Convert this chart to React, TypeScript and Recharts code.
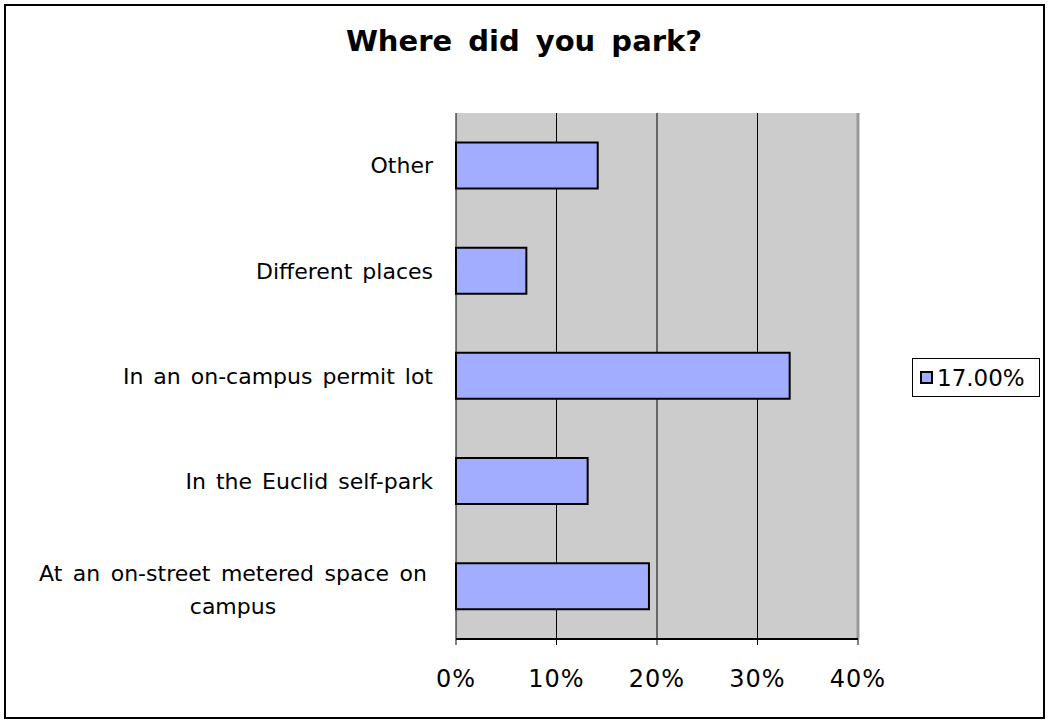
import React from "react";
import {
  BarChart,
  Bar,
  XAxis,
  YAxis,
  CartesianGrid,
  Legend,
  ReferenceLine,
} from "recharts";

const categories = [
  "Other",
  "Different places",
  "In an on-campus permit lot",
  "In the Euclid self-park",
  "At an on-street metered space on\ncampus",
];
const shares = [14.1, 7.0, 33.2, 13.1, 19.2];
const xTicks = [0, 10, 20, 30, 40];
const seriesName = "17.00%";
const title = "Where did you park?";

const data = categories.map((c, i) => ({ name: c, value: shares[i] }));

const FONT = "'DejaVu Sans', Verdana, sans-serif";
const BAR_FILL = "#A3ADFF";

function CategoryTick(props: any) {
  const { x, y, payload } = props;
  const lines = String(payload.value).split("\n");
  if (lines.length === 1) {
    return (
      <text x={x - 15} y={y} dy="0.35em" textAnchor="end" fontSize={22} fontFamily={FONT} wordSpacing={3} fill="#000">
        {lines[0]}
      </text>
    );
  }
  const lh = 33;
  const start = y + 3 - ((lines.length - 1) * lh) / 2;
  return (
    <text x={233} y={start} textAnchor="middle" fontSize={22} fontFamily={FONT} wordSpacing={3.5} fill="#000">
      {lines.map((l, i) => (
        <tspan key={i} x={233} y={start + i * lh} dy="0.35em">
          {l}
        </tspan>
      ))}
    </text>
  );
}

function LegendBox() {
  return (
    <div
      style={{
        boxSizing: "border-box",
        width: 128,
        height: 39,
        border: "1px solid #000",
        background: "#fff",
        display: "flex",
        alignItems: "center",
        paddingLeft: 7,
        fontFamily: FONT,
        fontSize: 23,
        whiteSpace: "nowrap",
      }}
    >
      <span
        style={{
          display: "inline-block",
          boxSizing: "border-box",
          width: 13,
          height: 13,
          background: BAR_FILL,
          border: "2px solid #000",
          marginRight: 4,
        }}
      />
      {seriesName}
    </div>
  );
}

export default function App() {
  return (
    <div style={{ position: "absolute", left: 0, top: 0, width: 1048, height: 723, background: "#fff" }}>
      <div
        style={{
          position: "absolute",
          left: 4,
          top: 4,
          width: 1037,
          height: 711,
          border: "2px solid #000",
        }}
      />
      <div
        style={{
          position: "absolute",
          left: 0,
          top: 24,
          width: 1048,
          textAlign: "center",
          fontFamily: FONT,
          fontSize: 29,
          fontWeight: "bold",
          wordSpacing: 6,
        }}
      >
        {title}
      </div>
      <div style={{ position: "absolute", left: 0, top: 0 }}>
        <BarChart
          width={1048}
          height={723}
          data={data}
          layout="vertical"
          margin={{ top: 113, right: 190, bottom: 0, left: 0 }}
          barCategoryGap="28%"
        >
          <CartesianGrid
            horizontal={false}
            stroke="#000"
            strokeWidth={1}
            fill="#CCCCCC"
            fillOpacity={1}
            yAxisId="cat"
          />
          <XAxis
            type="number"
            domain={[0, 40]}
            ticks={xTicks}
            tickFormatter={(v: number) => `${v}%`}
            height={84}
            tickSize={6}
            tickMargin={25}
            axisLine={{ stroke: "#000", strokeWidth: 2 }}
            tickLine={{ stroke: "#000" }}
            tick={{ fontSize: 24, fontFamily: FONT, fill: "#000", letterSpacing: 1 }}
          />
          <YAxis
            yAxisId="bounds"
            type="number"
            domain={[0, 5]}
            ticks={[0, 1, 2, 3, 4, 5]}
            width={0}
            tickSize={8}
            tick={false}
            axisLine={{ stroke: "#000", strokeWidth: 2 }}
            tickLine={{ stroke: "#000" }}
          />
          <YAxis
            yAxisId="cat"
            type="category"
            dataKey="name"
            width={456}
            axisLine={false}
            tickLine={false}
            interval={0}
            tick={<CategoryTick />}
          />
          <ReferenceLine x={40} yAxisId="cat" stroke="#999" strokeWidth={3} />
          <ReferenceLine y={5} yAxisId="bounds" stroke="#999" strokeWidth={2} />
          <Legend
            layout="horizontal"
            verticalAlign="middle"
            align="center"
            content={<LegendBox />}
            wrapperStyle={{ position: "absolute", left: 912, top: 358, width: 128 }}
          />
          <Bar
            yAxisId="cat"
            dataKey="value"
            name={seriesName}
            fill={BAR_FILL}
            stroke="#000"
            strokeWidth={2}
            isAnimationActive={false}
          />
        </BarChart>
      </div>
    </div>
  );
}
